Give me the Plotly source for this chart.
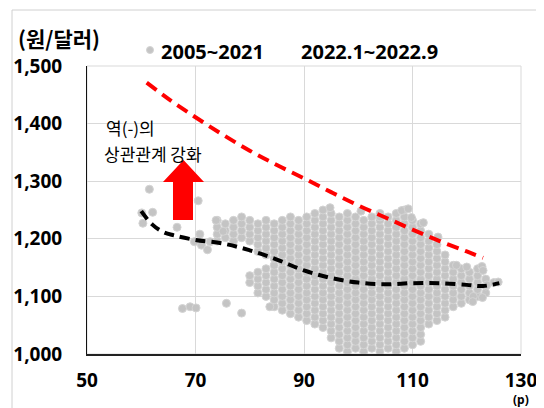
import plotly.graph_objects as go

# ---- data ----
# 2005~2021 scatter cloud: column x positions and the y values observed in each column
cloud_x_cols = [74, 75.5, 77, 78.5, 80, 81.5, 83, 84.5, 86, 87.5, 89, 90.5, 92, 93.5,
                95, 96.5, 98, 99.5, 101, 102.5, 104, 105.5, 107, 108.5, 110, 111.5,
                113, 114.5, 116, 117.5, 119, 120.5, 122, 123.5, 125]
cloud_y_cols = [
    [1196, 1208, 1220, 1232],
    [1202, 1214, 1226],
    [1196, 1208, 1220, 1232],
    [1202, 1214, 1226, 1238],
    [1124, 1136, 1196, 1208, 1220, 1232],
    [1106, 1118, 1130, 1142, 1178, 1190, 1202, 1214, 1226],
    [1100, 1112, 1124, 1136, 1148, 1172, 1184, 1196, 1208, 1220, 1232],
    [1082, 1094, 1106, 1118, 1130, 1142, 1154, 1166, 1178, 1190, 1202, 1214, 1226],
    [1076, 1088, 1100, 1112, 1124, 1136, 1148, 1160, 1172, 1184, 1196, 1208, 1220, 1232],
    [1070, 1082, 1094, 1106, 1118, 1130, 1142, 1154, 1166, 1178, 1190, 1202, 1214, 1226, 1238],
    [1064, 1076, 1088, 1100, 1112, 1124, 1136, 1148, 1160, 1172, 1184, 1196, 1208, 1220, 1232],
    [1058, 1070, 1082, 1094, 1106, 1118, 1130, 1142, 1154, 1166, 1178, 1190, 1202, 1214, 1226, 1238],
    [1052, 1064, 1076, 1088, 1100, 1112, 1124, 1136, 1148, 1160, 1172, 1184, 1196, 1208, 1220, 1232, 1244],
    [1046, 1058, 1070, 1082, 1094, 1106, 1118, 1130, 1142, 1154, 1166, 1178, 1190, 1202, 1214, 1226, 1238, 1250],
    [1028, 1040, 1052, 1064, 1076, 1088, 1100, 1112, 1124, 1136, 1148, 1160, 1172, 1184, 1196, 1208, 1220, 1232, 1244],
    [1010, 1022, 1034, 1046, 1058, 1070, 1082, 1094, 1106, 1118, 1130, 1142, 1154, 1166, 1178, 1190, 1202, 1214, 1226, 1238],
    [1004, 1016, 1028, 1040, 1052, 1064, 1076, 1088, 1100, 1112, 1124, 1136, 1148, 1160, 1172, 1184, 1196, 1208, 1220, 1232, 1244],
    [1010, 1022, 1034, 1046, 1058, 1070, 1082, 1094, 1106, 1118, 1130, 1142, 1154, 1166, 1178, 1190, 1202, 1214, 1226, 1238],
    [1004, 1016, 1028, 1040, 1052, 1064, 1076, 1088, 1100, 1112, 1124, 1136, 1148, 1160, 1172, 1184, 1196, 1208, 1220, 1232],
    [1010, 1022, 1034, 1046, 1058, 1070, 1082, 1094, 1106, 1118, 1130, 1142, 1154, 1166, 1178, 1190, 1202, 1214, 1226, 1238],
    [1004, 1016, 1028, 1040, 1052, 1064, 1076, 1088, 1100, 1112, 1124, 1136, 1148, 1160, 1172, 1184, 1196, 1208, 1220, 1232, 1244],
    [1010, 1022, 1034, 1046, 1058, 1070, 1082, 1094, 1106, 1118, 1130, 1142, 1154, 1166, 1178, 1190, 1202, 1214, 1226, 1238],
    [1004, 1016, 1028, 1040, 1052, 1064, 1076, 1088, 1100, 1112, 1124, 1136, 1148, 1160, 1172, 1184, 1196, 1208, 1220, 1232, 1244],
    [1010, 1022, 1034, 1046, 1058, 1070, 1082, 1094, 1106, 1118, 1130, 1142, 1154, 1166, 1178, 1190, 1202, 1214, 1226, 1238, 1250],
    [1016, 1028, 1040, 1052, 1064, 1076, 1088, 1100, 1112, 1124, 1136, 1148, 1160, 1172, 1184, 1196, 1208, 1220, 1232],
    [1022, 1034, 1046, 1058, 1070, 1082, 1094, 1106, 1118, 1130, 1142, 1154, 1166, 1178, 1190, 1202, 1214, 1226],
    [1052, 1064, 1076, 1088, 1100, 1112, 1124, 1136, 1148, 1160, 1172, 1184, 1196, 1208],
    [1058, 1070, 1082, 1094, 1106, 1118, 1130, 1142, 1154, 1166, 1178, 1190],
    [1064, 1076, 1088, 1100, 1112, 1124, 1136, 1148, 1160, 1172],
    [1082, 1094, 1106, 1118, 1130, 1142, 1154],
    [1088, 1100, 1112, 1124, 1136, 1148],
    [1094, 1106, 1118, 1130, 1142],
    [1100, 1112, 1124, 1136, 1148],
    [1106, 1118, 1130],
    [1124],
]
# scattered observations outside the dense cloud
outlier_x = [60.1, 60.3, 61.5, 62.1, 66.6, 69.8, 70.5, 70.8, 71.1, 72.2, 72.7, 73.8, 75.1,
             67.6, 69.0, 70.1, 75.7, 78.5, 83.7, 94.8, 100.5, 104, 108, 109.2, 109.8,
             112, 114.7, 118.1, 120, 122.8, 123, 123.7, 125.8, 121.2, 122.9, 121.1]
outlier_y = [1245, 1227, 1286, 1246, 1220, 1195, 1266, 1208, 1189, 1181, 1195, 1232, 1213,
             1079, 1082, 1080, 1088, 1071, 1082, 1254, 1248, 1238, 1249, 1252, 1237,
             1228, 1203, 1154, 1151, 1152, 1145, 1120, 1125, 1100, 1098, 1091]

# 2005~2021 trend (black dashed)
trend_hist_x = [60, 62, 64, 66, 70, 75, 80, 85, 90, 95, 100, 105, 110, 115, 120, 123, 126]
trend_hist_y = [1248, 1225, 1212, 1206, 1198, 1192, 1180, 1164, 1145, 1132, 1124, 1121,
                1123, 1123, 1120, 1118, 1123]

# 2022.1~2022.9 trend (red dashed)
trend_2022_x = [61, 65, 70, 75, 80, 85, 90, 95, 100, 105, 110, 115, 120, 123]
trend_2022_y = [1471, 1443, 1411, 1381, 1353, 1328, 1305, 1281, 1258, 1237, 1216, 1196,
                1178, 1167]

x_ticks = [50, 70, 90, 110, 130]
y_ticks = [1000, 1100, 1200, 1300, 1400, 1500]
y_tick_labels = ["1,000", "1,100", "1,200", "1,300", "1,400", "1,500"]

series_names = ["2005~2021", "2022.1~2022.9"]

# ---- build ----
hist_x, hist_y = [], []
for cx, ys in zip(cloud_x_cols, cloud_y_cols):
    for yv in ys:
        hist_x.append(cx)
        hist_y.append(yv)
hist_x += outlier_x
hist_y += outlier_y

NUM_FONT = "Noto Sans, Noto Sans CJK KR, sans-serif"
KR_FONT = "Noto Sans CJK KR, sans-serif"

fig = go.Figure()
fig.add_trace(go.Scatter(
    x=hist_x, y=hist_y, mode="markers", name=series_names[0],
    marker=dict(size=8, color="rgb(196,196,196)",
                line=dict(color="rgb(212,212,212)", width=1)),
    showlegend=False, hoverinfo="skip"))
fig.add_trace(go.Scatter(
    x=trend_hist_x, y=trend_hist_y, mode="lines", line_shape="spline",
    line=dict(color="black", width=4, dash="10px,6px"),
    showlegend=False, hoverinfo="skip"))
fig.add_trace(go.Scatter(
    x=trend_2022_x, y=trend_2022_y, mode="lines", name=series_names[1], line_shape="spline",
    line=dict(color="#FF0000", width=4, dash="12px,7px"),
    showlegend=False, hoverinfo="skip"))

# the page body adds an 8px offset, so the figure is drawn 8px smaller
OFF = 8
W, H = 544 - OFF, 408 - OFF
# plot area in page pixels (as in the reference)
PL, PR, PT, PB = 87, 521, 66, 354
L, T = PL - OFF, PT - OFF
R, B = W - (PR - OFF), H - (PB - OFF)
pw, ph = PR - PL, PB - PT


def px(xpix):
    return (xpix - PL) / pw


def py(ypix):
    return (PB - ypix) / ph


shapes = [
    # outer frame
    dict(type="rect", xref="paper", yref="paper", x0=px(12), x1=px(600),
         y0=py(460), y1=py(10), line=dict(color="#D0D0D0", width=1), layer="below"),
    # plot frame (light)
    dict(type="rect", xref="paper", yref="paper", x0=0, x1=1, y0=0, y1=1,
         line=dict(color="#D9D9D9", width=1), layer="below"),
    # legend marker
    dict(type="circle", xref="paper", yref="paper", x0=px(146.5), x1=px(153.5),
         y0=py(53.5), y1=py(46.5), fillcolor="rgb(196,196,196)",
         line=dict(color="rgb(212,212,212)", width=1)),
    # red up arrow
    dict(type="path", xref="x", yref="y",
         path="M 65.85,1232.6 L 69.54,1232.6 L 69.54,1298.6 L 71.57,1298.6 "
              "L 67.79,1336.8 L 64.0,1298.6 L 65.85,1298.6 Z",
         fillcolor="#FF0000", line=dict(color="#FF0000", width=0)),
]

annotations = [
    dict(text="<b>(원/달러)</b>", xref="paper", yref="paper", x=px(16), y=py(38),
         xanchor="left", yanchor="middle", showarrow=False,
         font=dict(family=KR_FONT, size=21, color="black")),
    dict(text="<b>2005~2021</b>", xref="paper", yref="paper", x=px(159), y=py(51),
         xanchor="left", yanchor="middle", showarrow=False,
         font=dict(family=NUM_FONT, size=20, color="black")),
    dict(text="<b>2022.1~2022.9</b>", xref="paper", yref="paper", x=px(299), y=py(51),
         xanchor="left", yanchor="middle", showarrow=False,
         font=dict(family=NUM_FONT, size=20, color="black")),
    dict(text="역(-)의", xref="paper", yref="paper", x=px(104), y=py(127),
         xanchor="left", yanchor="middle", showarrow=False,
         font=dict(family=KR_FONT, size=17, color="black")),
    dict(text="상관관계 강화", xref="paper", yref="paper", x=px(102), y=py(153),
         xanchor="left", yanchor="middle", showarrow=False,
         font=dict(family=KR_FONT, size=17, color="black")),
    dict(text="<b>(p)</b>", xref="paper", yref="paper", x=px(521), y=py(399),
         xanchor="center", yanchor="middle", showarrow=False,
         font=dict(family=NUM_FONT, size=12, color="black")),
]

fig.update_layout(
    width=W, height=H, margin=dict(l=L, r=R, t=T, b=B, pad=0, autoexpand=False),
    paper_bgcolor="white", plot_bgcolor="white",
    shapes=shapes, annotations=annotations, showlegend=False,
    xaxis=dict(range=[50, 130], tickvals=x_ticks, showgrid=True, gridcolor="#D9D9D9",
               gridwidth=1, zeroline=False, showline=True, linecolor="#222222", linewidth=1.5,
               ticks="", ticklabelstandoff=8, automargin=False,
               tickfont=dict(family=NUM_FONT, size=19, color="black", weight="bold")),
    yaxis=dict(range=[1000, 1500], tickvals=y_ticks, ticktext=y_tick_labels,
               showgrid=True, gridcolor="#D9D9D9", gridwidth=1, zeroline=False,
               showline=True, linecolor="#111111", linewidth=1, ticks="",
               ticklabelstandoff=20, automargin=False,
               tickfont=dict(family=NUM_FONT, size=19, color="black", weight="bold")),
)

fig.write_html("out.html")
